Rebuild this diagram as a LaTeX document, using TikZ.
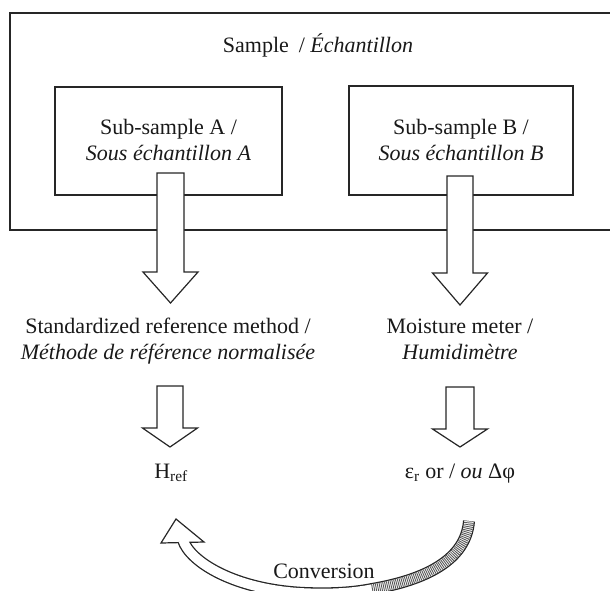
\documentclass[tikz,border=0pt]{standalone}
\usepackage{fontspec}
\setmainfont{Liberation Serif}
\tikzset{
  txt/.style={font=\fontsize{22}{26}\selectfont, text=black!90, inner sep=0pt, align=center},
  boxline/.style={draw=black!85, line width=1.3pt},
  hollow/.style={draw=black!85, line width=1.2pt, fill=white, line join=miter},
}
\newcommand\hollowdown[5]{% cx, top, shoulder, tip, shaft half width
  \draw[hollow] (#1-#5,#2) -- (#1+#5,#2) -- (#1+#5,#3) -- (#1+27.5,#3) -- (#1,#4)
    -- (#1-27.5,#3) -- (#1-#5,#3) -- cycle;}
\begin{document}
\begin{tikzpicture}[x=1pt,y=-1pt]
\clip (0,0) rectangle (610,590);
% boxes
\draw[boxline] (10,13) rectangle (625,230);
\node[boxline, minimum width=227pt, minimum height=108pt] (subA) at (168.5,141) {};
\node[boxline, minimum width=224pt, minimum height=109pt] (subB) at (461,140.5) {};
\node[txt, anchor=base] (subAt) at (168.5,160) {Sub-sample A /\\\textit{Sous échantillon A}};
\node[txt, anchor=base] (subBt) at (461,160) {Sub-sample B /\\\textit{Sous échantillon B}};
\node[txt, anchor=base] (sample) at (318,52) {Sample\hspace{0.45em}/ \textit{Échantillon}};
% hollow arrows
\hollowdown{170.5}{173}{272}{303}{13.5}
\hollowdown{460}{176}{273}{305}{13}
\hollowdown{170}{386}{428}{447}{13}
\hollowdown{460}{387}{429}{447}{14}
% texts
\node[txt, anchor=base] (ref) at (168,359)
  {Standardized reference method /\\\textit{Méthode de référence normalisée}};
\node[txt, anchor=base] (meter) at (460,359)
  {Moisture meter /\\\textit{Humidimètre}};
\node[txt, anchor=base] (href) at (171,478) {H\textsubscript{ref}};
\node[txt, anchor=base] (eps) at (460,478) {ε\textsubscript{r} or / \textit{ou} Δφ};
\node[txt, anchor=base] (conv) at (324,578) {Conversion};
% curved conversion arrow
\coordinate (hb) at (183,540);
\coordinate (m1) at (305,593);
\coordinate (m2) at (372,589);
\coordinate (re) at (469,521);
\draw[line width=12pt, black!85] (hb) .. controls (190,562) and (235,590) .. (m1)
  .. controls (330,594) and (352,593) .. (m2) .. controls (425,580) and (466,560) .. (re);
\draw[hollow] (176,519) -- (161,543) -- (204,542) -- cycle;
\draw[line width=9.4pt, white] (hb) .. controls (190,562) and (235,590) .. (m1)
  .. controls (330,594) and (352,593) .. (m2) .. controls (425,580) and (466,560) .. (re);
\draw[line width=9.4pt, black!65, dash pattern=on 0.9pt off 1pt] (m2) .. controls (425,580) and (466,560) .. (re);
\end{tikzpicture}
\end{document}
